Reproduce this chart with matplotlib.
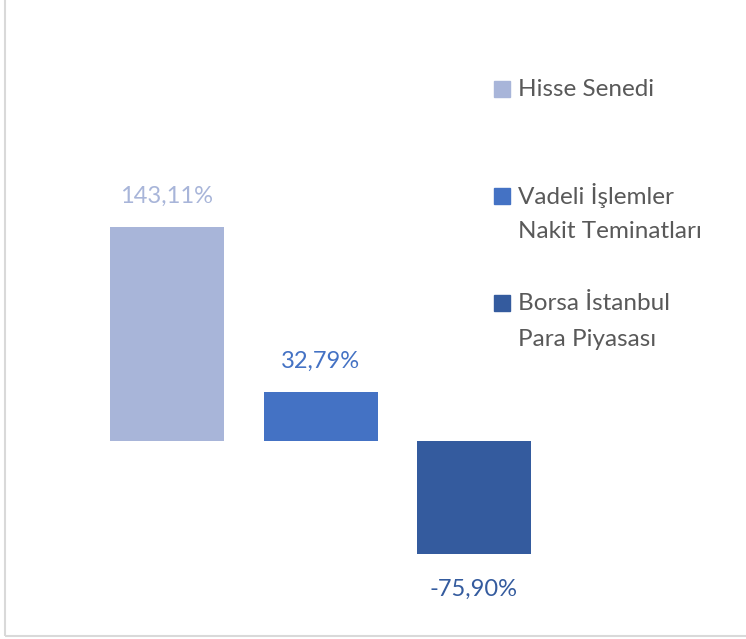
import matplotlib
matplotlib.use("Agg")
import matplotlib.pyplot as plt
from matplotlib.patches import Rectangle

plt.rcParams['font.family'] = ['Lato', 'DejaVu Sans']

categories = ["Hisse Senedi", "Vadeli İşlemler\nNakit Teminatları", "Borsa İstanbul\nPara Piyasası"]
values = [143.11, 32.79, -75.90]
labels = ["143,11%", "32,79%", "-75,90%"]
colors = ["#A8B5D9", "#4472C4", "#345B9E"]

W, H = 746, 639
fig = plt.figure(figsize=(W / 100, H / 100), dpi=100)
ax = fig.add_axes([0, 0, 1, 1])

# map pixel layout: bar centres at 167 + 153.5*i, zero line at y=441
step = 153.5
ax.set_xlim(-167 / step, (W - 167) / step)
scale = 1.495
ax.set_ylim((441 - H) / scale, 441 / scale)
ax.axis("off")

xs = list(range(len(values)))
bars = ax.bar(xs, values, width=114 / step, color=colors)

for x, v, lab, c in zip(xs, values, labels, colors):
    off = 22 if v >= 0 else -25
    ax.annotate(lab, (x, v), xytext=(0, off), textcoords="offset points",
                ha="center", va="center", fontsize=17, color=c)

# chart frame (only left and bottom edges show)
fig.patches.append(Rectangle((5 / W, 1 - 636 / H), 2, 2, transform=fig.transFigure,
                             fill=False, edgecolor="#D9D9D9", lw=1.5))

# legend, drawn by hand so the marker sits on the first text line
legend_y = [89, 196, 303]
for cat, c, yy in zip(categories, colors, legend_y):
    fig.patches.append(Rectangle((494 / W, 1 - (yy + 8) / H), 16 / W, 16 / H,
                                 transform=fig.transFigure, color=c))
    for k, line in enumerate(cat.split("\n")):
        fig.text(518 / W, 1 - (yy + 36 * k) / H, line, ha="left", va="center",
                 fontsize=17.5, color="#595959")

fig.savefig("out.png", dpi=100)
